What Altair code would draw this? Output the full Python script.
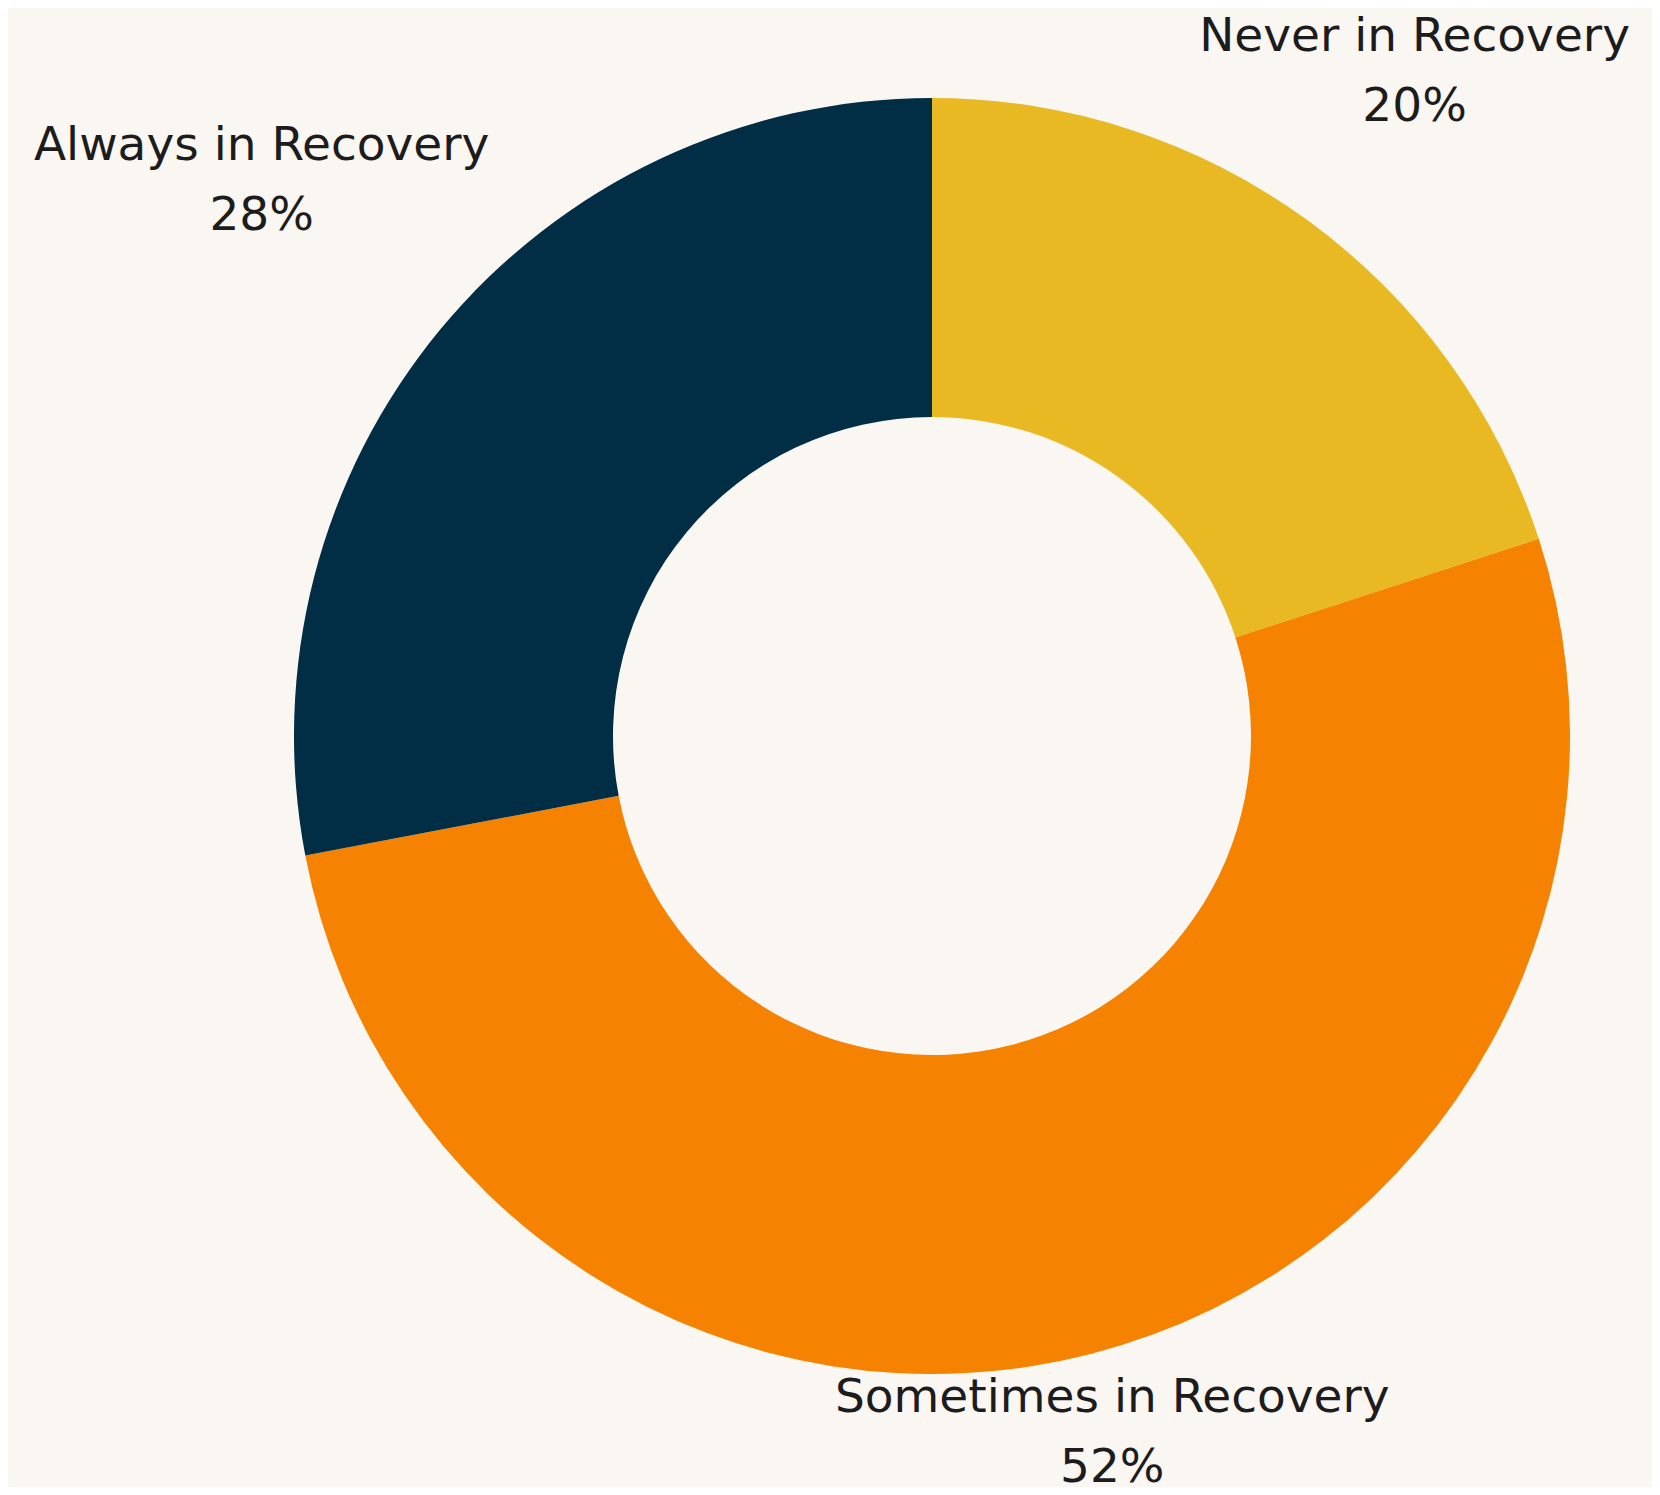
import altair as alt
import pandas as pd

# ---- data ----
categories = ["Never in Recovery", "Sometimes in Recovery", "Always in Recovery"]
shares = [20, 52, 28]
colors = ["#E8B923", "#F58200", "#022E45"]

df = pd.DataFrame({"category": categories, "share": shares})

# ---- styling ----
BG = "#FAF6F2"
CX, CY = 924, 728          # donut centre inside the view
R_OUT, R_IN = 638, 319
FONT = "DejaVu Sans"
LINE_H = 70
# per-label placement style: (radius, dx, dy)
label_style = {
    "Never in Recovery": (821, 0, -LINE_H / 2),
    "Sometimes in Recovery": (725, 0, -LINE_H / 2 - 5),
    "Always in Recovery": (870, 0, -LINE_H / 2),
}

base = (
    alt.Chart(df)
    .transform_window(idx="row_number()")
    .transform_joinaggregate(total="sum(share)")
    .transform_window(cum="sum(share)", sort=[alt.SortField("idx")], frame=[None, 0])
    .transform_calculate(
        start="(datum.cum - datum.share) / datum.total * 2 * PI",
        end="datum.cum / datum.total * 2 * PI",
    )
    .transform_calculate(
        mid="(datum.start + datum.end) / 2",
        label="datum.category + '\\n' + datum.share + '%'",
    )
)

arcs = base.mark_arc(innerRadius=R_IN, outerRadius=R_OUT, stroke=None).encode(
    theta=alt.Theta("start:Q", scale=None),
    theta2=alt.Theta2("end:Q"),
    x=alt.value(CX),
    y=alt.value(CY),
    color=alt.Color(
        "category:N",
        scale=alt.Scale(domain=categories, range=colors),
        legend=None,
    ),
)

layers = [arcs]
for cat in categories:
    r, dx, dy = label_style[cat]
    layers.append(
        base.transform_filter(alt.datum.category == cat)
        .mark_text(
            radius=r,
            dx=dx,
            dy=dy,
            font=FONT,
            fontSize=47,
            lineHeight=LINE_H,
            lineBreak="\n",
            align="center",
            baseline="middle",
            color="#1c1c1c",
        )
        .encode(
            theta=alt.Theta("mid:Q", scale=None),
            x=alt.value(CX),
            y=alt.value(CY),
            text="label:N",
        )
    )

chart = (
    alt.layer(*layers)
    .properties(
        width=1644,
        height=1479,
        background=BG,
        padding=0,
        autosize=alt.AutoSizeParams(type="none"),
    )
    .configure_view(stroke=None)
)

chart.save("out.html", embed_options={"renderer": "svg", "actions": False})
